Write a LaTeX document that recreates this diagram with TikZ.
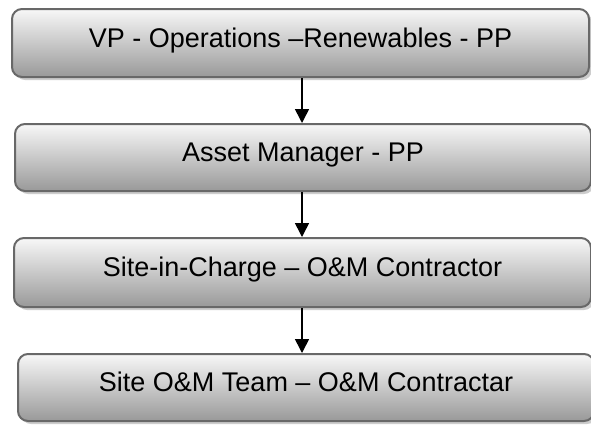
\documentclass[tikz,border=0pt]{standalone}
\usepackage{fontspec}
\setmainfont{Liberation Sans}
\usetikzlibrary{arrows.meta,shadows}
\definecolor{edgegray}{HTML}{686868}
\definecolor{shadegray}{HTML}{CDCDCD}
\begin{document}
\begin{tikzpicture}[x=1pt,y=1pt,
  stagebox/.style={draw=edgegray, line width=2pt, rounded corners=10pt,
    top color=black!3, middle color=black!16, bottom color=black!40,
    drop shadow={shadow xshift=3pt, shadow yshift=-3pt, fill=shadegray, opacity=1},
    inner sep=0pt, text height=19pt, text depth=11pt,
    font=\fontsize{27}{30}\selectfont},
  flow/.style={line width=1.6pt, -{Triangle[width=14pt,length=14pt]}}]
\useasboundingbox (0,0) rectangle (591,-424);
\fill[white] (0,0) rectangle (591,-424);

\node[stagebox, minimum width=577pt, minimum height=68pt] (b1) at (300.5,-43)
  {VP - Operations –Renewables - PP};
\node[stagebox, minimum width=576pt, minimum height=67pt] (b2) at (303,-157.5)
  {Asset Manager - PP};
\node[stagebox, minimum width=577pt, minimum height=69pt] (b3) at (302.5,-272.5)
  {Site-in-Charge – O\&M Contractor};
\node[stagebox, minimum width=576pt, minimum height=67pt] (b4) at (306,-387.5)
  {Site O\&M Team – O\&M Contractar};

\coordinate (axis) at (302,0);
\draw[flow] (b1.south -| axis) -- (b2.north -| axis);
\draw[flow] (b2.south -| axis) -- (b3.north -| axis);
\draw[flow] (b3.south -| axis) -- (b4.north -| axis);
\end{tikzpicture}
\end{document}
